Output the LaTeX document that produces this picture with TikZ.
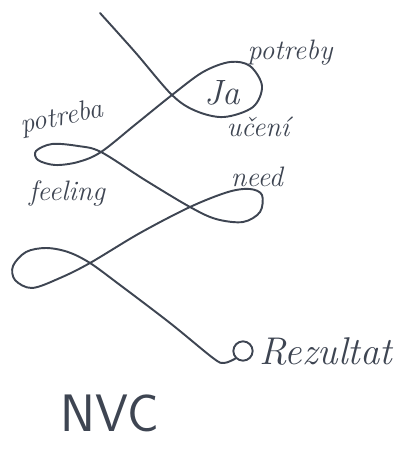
\documentclass[tikz,border=0pt]{standalone}
\usepackage{tikz}
\usetikzlibrary{positioning}
\definecolor{ink}{HTML}{3E4552}

\begin{document}
\begin{tikzpicture}[
  x=0.02cm,y=0.02cm,
  every node/.style={text=ink,inner sep=1pt},
  hand/.style={font=\itshape\fontsize{16}{16}\selectfont},
  big/.style={font=\itshape\fontsize{20}{20}\selectfont},
  loopline/.style={draw=ink,line width=1.1pt,line cap=round,line join=round},
  dot/.style={circle,draw=ink,line width=1.1pt,minimum size=11pt,inner sep=0pt}
]
\useasboundingbox (0,0) rectangle (413,451);

% points of the line
\coordinate (start) at (100,438);
\coordinate (x1) at (172,356);
\coordinate (x2) at (101,299);
\coordinate (x3) at (190,244);
\coordinate (x4) at (90,188);
\coordinate (hook) at (224,88);

\node[dot] (res) at (243,100) {};
\node[big,font=\itshape\fontsize{22}{22}\selectfont,right=2pt of res] (rezultat) {Rezultat};

\draw[loopline] plot[smooth,tension=0.55] coordinates {
  (start) (135,399) (x1) (196,340) (224,334) (253,344) (262,365) (250,385)
  (230,389) (203,379) (x1) (136,327) (x2) (78,289) (55,286) (38,291)
  (36,300) (52,307) (78,305) (x2) (145,271) (x3) (216,232) (243,229)
  (260,239) (262,256) (250,262) (228,259) (x3) (140,218) (x4) (60,173)
  (32,163) (15,171) (13,185) (26,199) (46,203) (68,199) (x4) (120,166)
  (170,128) (213,93) (hook) (res.south west)};

\node[hand] (potreby) at (290,398) {potreby};
\node[big] (ja) at (222,358) {Ja};
\node[hand] (ucenie) at (258,324) {učení};
\node[hand,rotate=12] (potreba) at (62,333) {potreba};
\node[hand] (feeling) at (67,258) {feeling};
\node[hand] (need) at (257,274) {need};
\node[font=\sffamily\fontsize{30}{30}\selectfont] (nvc) at (110,38) {NVC};
\end{tikzpicture}
\end{document}
